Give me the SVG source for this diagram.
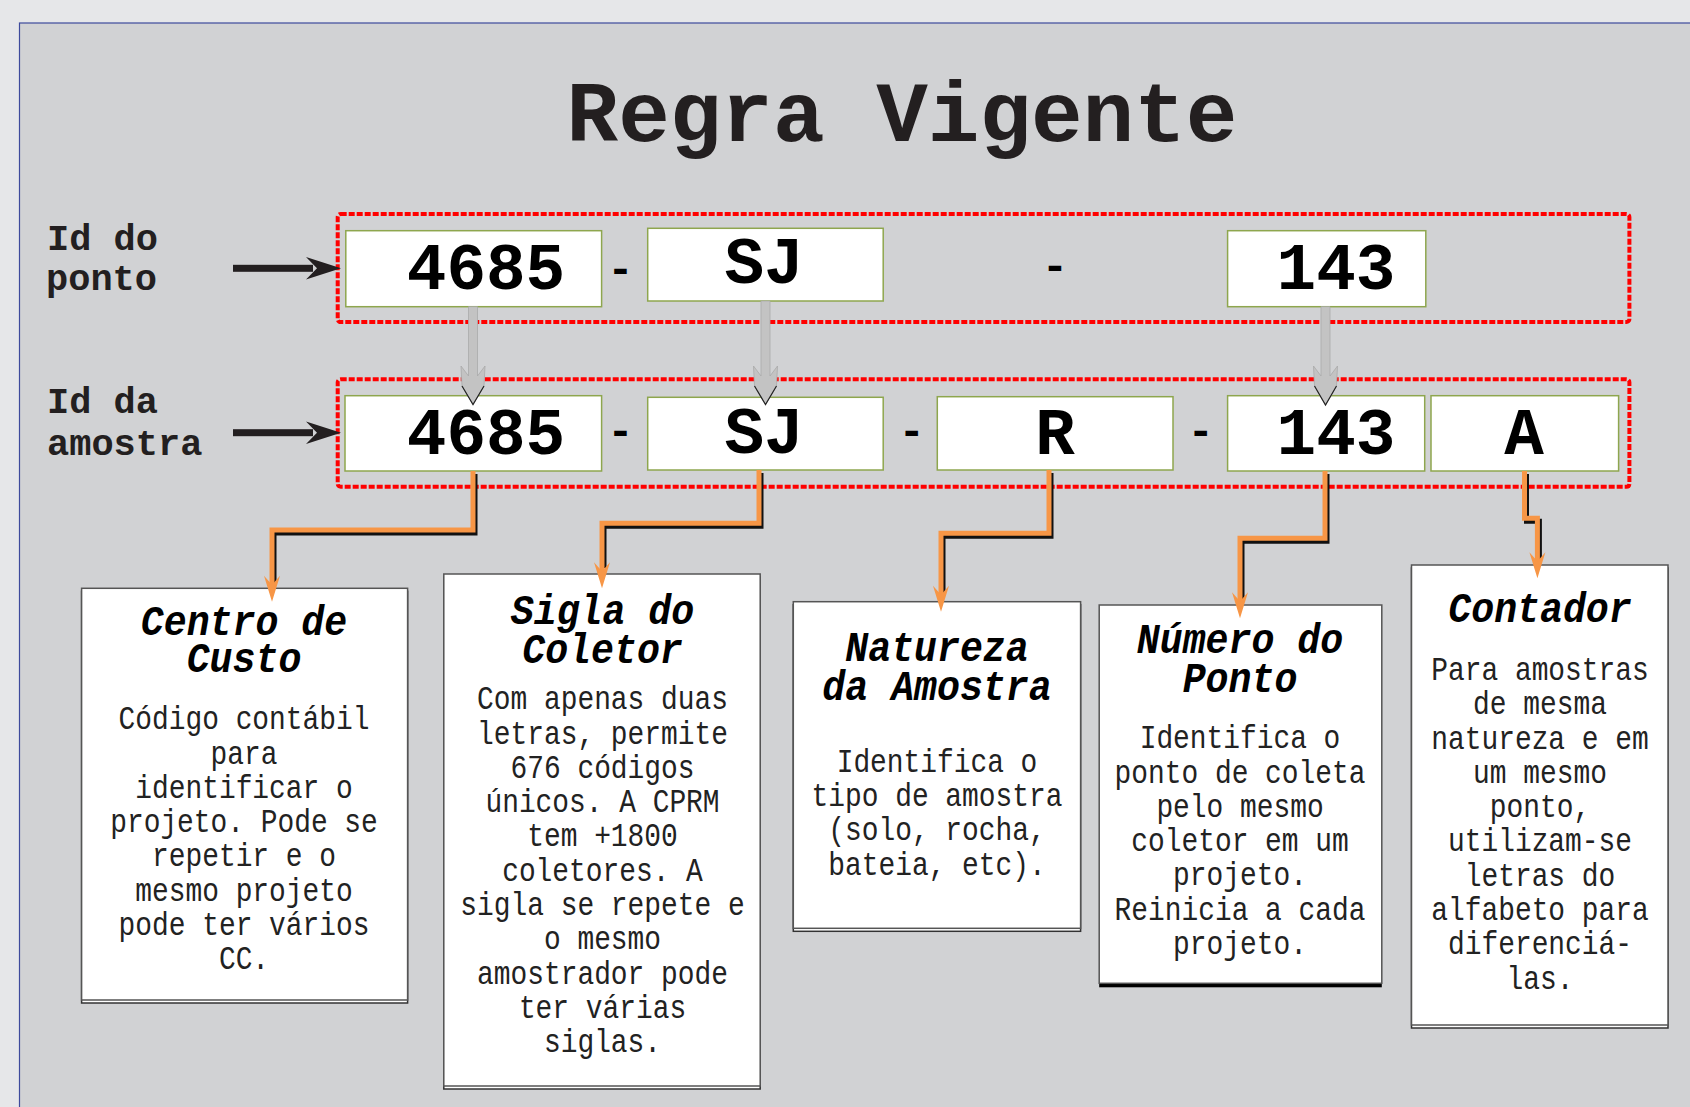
<svg xmlns="http://www.w3.org/2000/svg" width="1690" height="1107" viewBox="0 0 1690 1107">
<style>
.lbl{font-family:"Liberation Mono","Courier New",monospace;font-weight:bold;font-size:37px;fill:#231f20}
.title{font-family:"Liberation Mono","Courier New",monospace;font-weight:bold;font-size:86px;fill:#231f20;text-anchor:middle}
.big{font-family:"Liberation Mono","Courier New",monospace;font-weight:bold;font-size:66px;fill:#000;text-anchor:middle}
.dash{font-family:"Liberation Mono","Courier New",monospace;font-weight:bold;font-size:44px;fill:#000;text-anchor:middle}
.ttl{font-family:"Liberation Mono","Courier New",monospace;font-weight:bold;font-style:italic;font-size:42px;fill:#000;text-anchor:middle}
.body{font-family:"Liberation Mono","Courier New",monospace;font-size:33px;fill:#222;text-anchor:middle}
.seg{fill:#fff;stroke:#8ea64e;stroke-width:1.5}
.grp{fill:none;stroke:#ff0000;stroke-width:4;stroke-dasharray:6 2}
.card{fill:#fff;stroke:#555;stroke-width:1.5}
.cardsh{fill:#fff;stroke:#333;stroke-width:1.5}
.or{fill:none;stroke:#f79646;stroke-width:5}
.orsh{fill:none;stroke:#111;stroke-width:5}
.orh{fill:#f79646}
.gr{fill:#c3c3c3;stroke:#a9a9a9;stroke-width:0.8}
.grh{fill:none;stroke:#222;stroke-width:1.2}
.blk{fill:#231f20}
</style>
<defs>
<path id="oh" d="M0,0 L-8,-26 L0,-17 L8,-26 Z"/>
</defs>
<rect x="0" y="0" width="1690" height="1107" fill="#e6e7e9"/>
<rect x="19.5" y="23" width="1700" height="1100" fill="#d1d2d4" stroke="#3d4a9c" stroke-width="1.2"/>
<text class="title" x="902" y="141">Regra Vigente</text>

<g id="label-ponto">
<text class="lbl" x="47" y="250">Id do</text>
<text class="lbl" x="46" y="290">ponto</text>
</g>
<g id="label-amostra">
<text class="lbl" x="47" y="413">Id da</text>
<text class="lbl" x="47" y="455">amostra</text>
</g>

<g id="group-ponto">
<rect class="grp" x="337.7" y="214" width="1291.7" height="108" rx="3"/>
</g>
<g id="group-amostra">
<rect class="grp" x="337.7" y="379.3" width="1291.7" height="107.4" rx="3"/>
</g>

<g id="p-4685"><rect class="seg" x="345.8" y="230.7" width="255.8" height="76"/><text class="big" x="486" y="289">4685</text></g>
<text class="dash" x="620.5" y="283">-</text>
<g id="p-sj"><rect class="seg" x="647.7" y="228.3" width="235.5" height="72.7"/><text class="big" x="764" y="283.3">SJ</text></g>
<text class="dash" x="1055" y="280">-</text>
<g id="p-143"><rect class="seg" x="1227.6" y="230.7" width="198.2" height="76"/><text class="big" x="1336" y="289.3">143</text></g>

<g id="a-4685"><rect class="seg" x="345" y="395.7" width="256.6" height="75.3"/><text class="big" x="486" y="453.5">4685</text></g>
<text class="dash" x="620.5" y="445">-</text>
<g id="a-sj"><rect class="seg" x="647.7" y="397.3" width="235.5" height="72.7"/><text class="big" x="764" y="452.5">SJ</text></g>
<text class="dash" x="911.6" y="445">-</text>
<g id="a-r"><rect class="seg" x="937.3" y="396.7" width="235.7" height="73.3"/><text class="big" x="1055" y="454">R</text></g>
<text class="dash" x="1200.8" y="445">-</text>
<g id="a-143"><rect class="seg" x="1227.6" y="395.7" width="197.1" height="75.3"/><text class="big" x="1336" y="454">143</text></g>
<g id="a-a"><rect class="seg" x="1431" y="395.7" width="187.6" height="75.3"/><text class="big" x="1524" y="454">A</text></g>

<g id="card-centro">
<rect class="cardsh" x="81.6" y="591.3" width="326" height="411.7"/>
<rect class="card" x="81.6" y="588.3" width="326" height="411.7"/>
<g transform="translate(244,0) scale(0.91,1)">
<text class="ttl" x="0" y="635">Centro de</text>
<text class="ttl" x="0" y="671.7">Custo</text>
</g>
<g transform="translate(244,0) scale(0.845,1)">
<text class="body" x="0" y="729.3">Código contábil</text>
<text class="body" x="0" y="763.6">para</text>
<text class="body" x="0" y="797.9">identificar o</text>
<text class="body" x="0" y="832.2">projeto. Pode se</text>
<text class="body" x="0" y="866.5">repetir e o</text>
<text class="body" x="0" y="900.8">mesmo projeto</text>
<text class="body" x="0" y="935.1">pode ter vários</text>
<text class="body" x="0" y="969.4">CC.</text>
</g>
</g>

<g id="card-sigla">
<rect class="cardsh" x="443.8" y="577" width="316.4" height="512"/>
<rect class="card" x="443.8" y="574" width="316.4" height="512"/>
<g transform="translate(602.5,0) scale(0.91,1)">
<text class="ttl" x="0" y="624">Sigla do</text>
<text class="ttl" x="0" y="662.7">Coletor</text>
</g>
<g transform="translate(602.5,0) scale(0.845,1)">
<text class="body" x="0" y="709.3">Com apenas duas</text>
<text class="body" x="0" y="743.6">letras, permite</text>
<text class="body" x="0" y="777.9">676 códigos</text>
<text class="body" x="0" y="812.2">únicos. A CPRM</text>
<text class="body" x="0" y="846.5">tem +1800</text>
<text class="body" x="0" y="880.8">coletores. A</text>
<text class="body" x="0" y="915.1">sigla se repete e</text>
<text class="body" x="0" y="949.4">o mesmo</text>
<text class="body" x="0" y="983.7">amostrador pode</text>
<text class="body" x="0" y="1018">ter várias</text>
<text class="body" x="0" y="1052.3">siglas.</text>
</g>
</g>

<g id="card-natureza">
<rect class="cardsh" x="793.3" y="604.7" width="287.3" height="326.6"/>
<rect class="card" x="793.3" y="601.7" width="287.3" height="326.6"/>
<g transform="translate(937,0) scale(0.91,1)">
<text class="ttl" x="0" y="660.7">Natureza</text>
<text class="ttl" x="0" y="700">da Amostra</text>
</g>
<g transform="translate(937,0) scale(0.845,1)">
<text class="body" x="0" y="771.7">Identifica o</text>
<text class="body" x="0" y="806">tipo de amostra</text>
<text class="body" x="0" y="840.3">(solo, rocha,</text>
<text class="body" x="0" y="874.6">bateia, etc).</text>
</g>
</g>

<g id="card-numero">
<rect x="1099.2" y="609" width="282.6" height="378.3" fill="#000"/>
<rect class="card" x="1099.2" y="605" width="282.6" height="378.3"/>
<g transform="translate(1240,0) scale(0.91,1)">
<text class="ttl" x="0" y="653.3">Número do</text>
<text class="ttl" x="0" y="691.7">Ponto</text>
</g>
<g transform="translate(1240,0) scale(0.845,1)">
<text class="body" x="0" y="748.3">Identifica o</text>
<text class="body" x="0" y="782.6">ponto de coleta</text>
<text class="body" x="0" y="816.9">pelo mesmo</text>
<text class="body" x="0" y="851.2">coletor em um</text>
<text class="body" x="0" y="885.5">projeto.</text>
<text class="body" x="0" y="919.8">Reinicia a cada</text>
<text class="body" x="0" y="954.1">projeto.</text>
</g>
</g>

<g id="card-contador">
<rect class="cardsh" x="1411.5" y="568" width="256.5" height="460"/>
<rect class="card" x="1411.5" y="565" width="256.5" height="460"/>
<g transform="translate(1540,0) scale(0.91,1)">
<text class="ttl" x="0" y="621.7">Contador</text>
</g>
<g transform="translate(1540,0) scale(0.845,1)">
<text class="body" x="0" y="680">Para amostras</text>
<text class="body" x="0" y="714.3">de mesma</text>
<text class="body" x="0" y="748.6">natureza e em</text>
<text class="body" x="0" y="782.9">um mesmo</text>
<text class="body" x="0" y="817.2">ponto,</text>
<text class="body" x="0" y="851.5">utilizam-se</text>
<text class="body" x="0" y="885.8">letras do</text>
<text class="body" x="0" y="920.1">alfabeto para</text>
<text class="body" x="0" y="954.4">diferenciá-</text>
<text class="body" x="0" y="988.7">las.</text>
</g>
</g>

<g id="connectors">
<!-- black input arrows -->
<rect class="blk" x="233" y="264.8" width="80" height="7"/>
<polygon class="blk" points="306,257 341,268.3 306,279.6 317,268.3"/>
<rect class="blk" x="233" y="429.2" width="80" height="7"/>
<polygon class="blk" points="306,421.4 341,432.7 306,444 317,432.7"/>

<!-- gray arrows -->
<path class="gr" d="M468.5,306.7 H477.5 V376 L485,366 L484,386 L473,404.5 L462,386 L461,366 L468.5,376 Z"/>
<polyline class="grh" points="462,386 473,404.5 484,386"/>
<path class="gr" d="M761,301 H770 V376 L777.5,366 L776.5,386 L765.5,404.5 L754.5,386 L753.5,366 L761,376 Z"/>
<polyline class="grh" points="754.5,386 765.5,404.5 776.5,386"/>
<path class="gr" d="M1321,306.7 H1330 V376 L1337.5,366 L1336.5,386 L1325.5,405 L1314.5,386 L1313.5,366 L1321,376 Z"/>
<polyline class="grh" points="1314.5,386 1325.5,405 1336.5,386"/>

<!-- orange elbows -->
<g transform="translate(2,3)">
<polyline class="orsh" points="473,471 473,530 272,530 272,580"/>
<polyline class="orsh" points="759,470 759,523.3 602,523.3 602,565"/>
<polyline class="orsh" points="1049,470 1049,533.3 941,533.3 941,590"/>
<polyline class="orsh" points="1325,471 1325,538.3 1240,538.3 1240,597"/>
<polyline class="orsh" points="1524.5,471 1524.5,518.3 1537.4,518.3 1537.4,557"/>
</g>
<polyline class="or" points="473,471 473,530 272,530 272,590"/>
<use href="#oh" class="orh" x="272" y="601.7"/>
<polyline class="or" points="759,470 759,523.3 602,523.3 602,577"/>
<use href="#oh" class="orh" x="602" y="588.3"/>
<polyline class="or" points="1049,470 1049,533.3 941,533.3 941,600"/>
<use href="#oh" class="orh" x="941" y="611.7"/>
<polyline class="or" points="1325,471 1325,538.3 1240,538.3 1240,607"/>
<use href="#oh" class="orh" x="1240" y="618.3"/>
<polyline class="or" points="1524.5,471 1524.5,518.3 1537.4,518.3 1537.4,567"/>
<use href="#oh" class="orh" x="1537.4" y="578.3"/>
</g>
</svg>
